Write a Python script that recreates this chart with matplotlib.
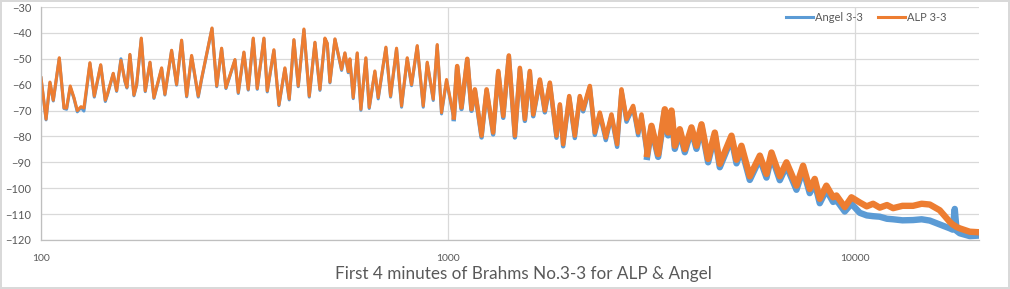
import numpy as np
from matplotlib import pyplot as plt

# frequency (Hz) and level (dB)
FREQ = [100, 102.9, 105.2, 107.2, 110.9, 113.9, 115.6, 118.0, 120.5, 122.8,
        125.4, 127.5, 131.9, 135.2, 140.2, 143.9, 145.6, 150.5, 153.4, 157.2,
        160.8, 162.6, 165.4, 169.2, 171.8, 176.4, 180.4, 185.3, 189.5, 197.9,
        201.6, 209.4, 215.4, 221.6, 228.0, 234.5, 243.5, 248.1, 263.2, 270.3,
        277.9, 284.8, 299.7, 305.4, 315.3, 323.1, 332.4, 340.0, 353.1, 359.8,
        373.6, 384.4, 397.6, 407.5, 418.4, 428.8, 442.8, 456.4, 471.3, 484.8,
        498.7, 505.3, 513.0, 527.8, 548.0, 558.4, 569.0, 574.4, 585.3, 598.7,
        611.2, 628.7, 640.7, 661.6, 674.2, 704.2, 723.0, 747.9, 769.4, 794.5,
        814.1, 840.8, 869.8, 889.7, 920.5, 941.5, 964.7, 992.5, 1034, 1054,
        1080, 1116, 1143, 1165, 1210, 1245, 1292, 1330, 1368, 1412,
        1461, 1503, 1546, 1590, 1621, 1683, 1731, 1781, 1849, 1885,
        1920, 1987, 2051, 2110, 2150, 2233, 2297, 2363, 2444, 2524,
        2606, 2671, 2748, 2853, 2935, 2991, 3088, 3165, 3287, 3413,
        3478, 3545, 3612, 3715, 3822, 3969, 4083, 4201, 4361, 4529,
        4659, 4978, 5121, 5267, 5521, 5844, 6068, 6242, 6543, 6795,
        7190, 7465, 7750, 7973, 8203, 8517, 8846, 9016, 9449, 9813,
        10287, 10700, 11092, 11519, 12000, 12426, 13100, 13911, 14600, 15289,
        16175, 17123, 17400, 17610, 17800, 18113, 19170, 20170]

ALP = [-57.3, -73.3, -59.0, -66.0, -49.6, -69.0, -69.0, -60.5, -65.0, -70.0,
       -68.5, -69.0, -51.5, -64.4, -52.3, -66.0, -63.7, -55.6, -62.3, -50.6,
       -58.5, -61.0, -48.3, -64.0, -60.0, -42.0, -62.4, -51.3, -65.0, -53.5,
       -63.7, -46.7, -59.9, -42.8, -64.4, -48.7, -64.4, -57.7, -38.1, -60.5,
       -45.9, -61.2, -50.3, -63.0, -47.4, -61.8, -42.0, -61.5, -42.0, -62.4,
       -46.5, -67.8, -53.5, -65.5, -42.6, -60.5, -38.5, -64.4, -43.6, -61.8,
       -42.0, -44.0, -59.0, -42.3, -54.1, -47.7, -55.0, -50.0, -65.0, -47.7,
       -69.5, -49.6, -68.8, -54.7, -65.0, -45.5, -64.4, -45.9, -68.2, -49.6,
       -60.0, -44.9, -68.2, -51.3, -65.6, -44.5, -70.8, -58.0, -72.7, -52.8,
       -68.8, -50.0, -69.5, -61.8, -79.7, -61.8, -78.5, -54.7, -72.1, -48.7,
       -79.7, -53.5, -73.3, -54.7, -71.5, -58.0, -70.0, -59.2, -79.7, -67.6,
       -83.0, -64.4, -79.7, -64.4, -69.5, -60.5, -78.5, -70.8, -80.4, -71.5,
       -83.0, -61.8, -73.3, -68.2, -78.5, -71.5, -86.8, -75.9, -86.8, -69.5,
       -78.5, -70.0, -83.6, -77.2, -84.9, -76.5, -83.6, -75.3, -88.7, -78.5,
       -90.6, -79.7, -89.0, -83.6, -95.4, -87.4, -94.5, -86.2, -95.4, -90.0,
       -99.0, -91.3, -100.3, -96.4, -104.1, -99.0, -103.5, -102.8, -107.3, -103.5,
       -105.5, -107.0, -106.0, -107.5, -106.5, -107.7, -106.8, -106.8, -106.0, -106.3,
       -108.5, -113.0, -114.0, -114.5, -115.0, -115.5, -116.8, -117.0]

ANGEL = [-57.5, -73.6, -59.2, -66.3, -49.8, -69.2, -69.5, -61.0, -65.3, -70.5,
         -68.8, -70.2, -51.8, -64.8, -52.5, -66.5, -64.0, -55.8, -62.6, -50.0,
         -58.8, -61.3, -48.5, -64.3, -60.2, -42.3, -62.7, -51.5, -65.3, -53.8,
         -64.0, -46.9, -60.2, -43.0, -64.7, -49.0, -64.8, -58.0, -38.3, -60.8,
         -46.1, -61.5, -50.5, -63.4, -47.6, -62.1, -42.3, -61.8, -42.2, -62.8,
         -46.8, -68.1, -53.8, -65.9, -42.8, -60.8, -38.8, -64.8, -43.8, -62.2,
         -42.3, -44.2, -59.3, -42.5, -54.5, -47.9, -55.4, -50.3, -65.4, -48.0,
         -69.9, -49.9, -69.2, -55.0, -65.5, -45.8, -64.8, -46.2, -68.7, -49.9,
         -60.4, -45.2, -68.7, -51.6, -66.1, -44.8, -71.3, -58.4, -73.3, -53.1,
         -69.4, -50.3, -70.1, -62.2, -80.4, -62.2, -79.2, -55.1, -72.8, -49.0,
         -80.4, -53.9, -74.0, -55.1, -72.2, -58.4, -70.7, -59.6, -80.5, -68.1,
         -83.8, -64.9, -80.6, -64.9, -70.3, -61.0, -79.4, -71.4, -81.4, -72.1,
         -84.0, -62.3, -74.3, -68.8, -79.5, -72.1, -87.9, -76.6, -87.9, -70.2,
         -79.6, -70.8, -84.8, -78.1, -86.1, -77.4, -84.8, -76.2, -90.0, -79.5,
         -91.9, -80.8, -90.4, -84.8, -96.8, -88.6, -95.9, -87.5, -96.9, -91.4,
         -100.6, -92.8, -101.9, -98.0, -105.8, -100.7, -105.3, -104.6, -109.0, -106.0,
         -109.5, -110.5, -110.8, -111.0, -111.8, -112.0, -112.4, -112.3, -112.0, -112.5,
         -114.0, -115.5, -116.0, -108.0, -116.5, -117.4, -118.5, -118.3]

freq = np.array(FREQ)
alp = np.array(ALP)
angel = np.array(ANGEL)

BLUE = "#5B9BD5"
ORANGE = "#ED7D31"
GREY = "#595959"

fig = plt.figure(figsize=(10.1, 2.89), dpi=100)
fig.patch.set_edgecolor("#d9d9d9")
fig.patch.set_linewidth(1.5)
ax = fig.add_axes([41 / 1010, 1 - 240 / 289, 938 / 1010, 233 / 289])

# thin trace at the bottom end, thicker where the spectrum turns into a dense band
mid = freq >= 1000
hi = freq >= 3000
for vals, col, name in [(angel, BLUE, "Angel 3-3"), (alp, ORANGE, "ALP 3-3")]:
    ax.plot(freq, vals, color=col, lw=2.2, label=name, solid_joinstyle="round")
    ax.plot(freq[mid], vals[mid], color=col, lw=3.2, solid_joinstyle="round")
    ax.plot(freq[hi], vals[hi], color=col, lw=4.6, solid_joinstyle="round")

ax.set_xscale("log")
ax.set_xlim(100, 20200)
ax.set_ylim(-120, -30)
ax.set_yticks(np.arange(-120, -29, 10))
ax.set_xticks([100, 1000, 10000])
ax.set_xticklabels(["100", "1000", "10000"])
ax.minorticks_off()

ax.grid(True, color="#d9d9d9", lw=0.9)
ax.set_axisbelow(True)
for s in ["top", "right"]:
    ax.spines[s].set_visible(False)
for s in ["left", "bottom"]:
    ax.spines[s].set_color("#bfbfbf")
    ax.spines[s].set_linewidth(0.9)

ax.tick_params(axis="y", length=0, pad=7, labelsize=8, labelcolor=GREY)
ax.tick_params(axis="x", length=0, pad=10, labelsize=7.5, labelcolor=GREY)
for lab in ax.get_xticklabels() + ax.get_yticklabels():
    lab.set_fontfamily("Lato")

leg = fig.legend(loc="upper left", bbox_to_anchor=(786 / 1010, 1 - 12 / 289),
                 ncol=2, frameon=False, prop={"family": "Lato", "size": 8},
                 handlelength=2.4, handletextpad=0.2, columnspacing=1.4,
                 borderpad=0, borderaxespad=0)
for t in leg.get_texts():
    t.set_color(GREY)
for h in leg.get_lines():
    h.set_linewidth(2.2)

fig.text(523 / 1010, 1 - 274 / 289, "First 4 minutes of Brahms No.3-3 for ALP & Angel",
         ha="center", va="center", fontsize=12.3, color=GREY, family="Lato")

fig.savefig("out.png", dpi=100, edgecolor=fig.get_edgecolor())
